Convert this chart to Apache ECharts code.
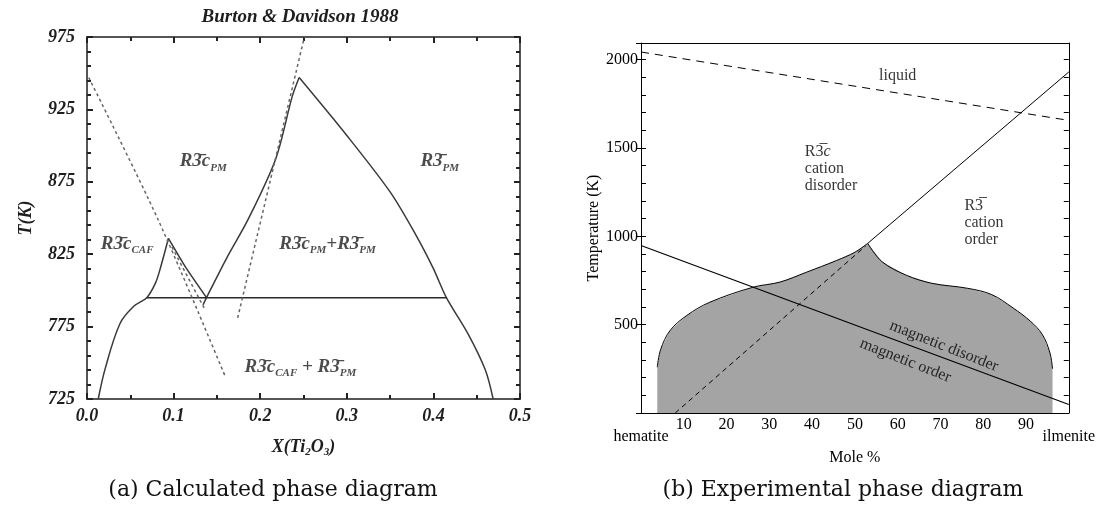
<!DOCTYPE html>
<html>
<head>
<meta charset="utf-8">
<title>Calculated and experimental phase diagrams</title>
<script src="https://cdn.jsdelivr.net/npm/echarts@6.0.0/dist/echarts.min.js"></script>
<style>
  html, body { margin: 0; padding: 0; background: #fff; }
  #chart { width: 1098px; height: 508px; }
</style>
</head>
<body>
<div id="chart"></div>
<script>
// (a) calculated diagram, points are [X(Ti2O3), T (K)]
const cafRise = [[0.013, 725], [0.021, 746], [0.038, 777], [0.054, 789], [0.069, 795], [0.079, 805], [0.085, 816], [0.094, 836]];
const cafFall = [[0.094, 836], [0.115, 815], [0.138, 795]];
const pmLeft = [[0.134, 790], [0.138, 795], [0.161, 822], [0.186, 849], [0.218, 891], [0.237, 934], [0.245, 947]];
const pmRight = [[0.245, 947], [0.300, 907], [0.350, 868], [0.380, 838], [0.400, 815], [0.415, 795], [0.440, 770], [0.460, 745], [0.469, 725]];
const eutectoid = [[0.069, 795], [0.415, 795]];
const dashLeft = [[0.002, 947], [0.082, 849], [0.160, 740]];
const dashCaf = [[0.098, 830], [0.136, 787]];
const dashPm = [[0.174, 781], [0.251, 975]];

// label text and anchor [x, T]
const calcLabels = [
  ['{m|R3\u0304c}{s|PM}', 0.107, 889],
  ['{m|R3\u0304}{s|PM}', 0.385, 889],
  ['{m|R3\u0304c}{s|CAF}', 0.016, 832],
  ['{m|R3\u0304c}{s|PM}{m|+R3\u0304}{s|PM}', 0.222, 832],
  ['{m|R3\u0304c}{s|CAF}{m| + R3\u0304}{s|PM}', 0.182, 747]
];

// (b) experimental diagram, points are [mole %, T (K)]
const liquidus = [[0, 2043], [100, 1656]];
const cationOrder = [[53, 960], [100, 1930]];
const magneticLine = [[0, 948], [100, 48]];
const orderDashed = [[8, 0], [52.5, 945]];
const domeLeft = [[3.8, 259], [4.6, 360], [6.8, 467], [10.7, 552], [16.1, 627], [26.2, 712], [32.5, 741], [38.7, 797], [45.7, 863], [50, 910], [53, 960]];
const domeRight = [[53, 960], [56.3, 857], [62, 780], [68, 734], [76.3, 706], [82, 670], [87, 594], [91, 520], [93.8, 445], [95.6, 340], [96.2, 250]];

const expLabels = [
  ['liquid', 60, 1911, 'center', 0],
  ['{r|R3\u0305}{i|c}\ncation\ndisorder', 38.3, 1380, 'left', 0],
  ['{r|R3\u0305}\ncation\norder', 75.6, 1075, 'left', 0],
  ['magnetic disorder', 70.8, 378, 'center', -21.5],
  ['magnetic order', 61.8, 297, 'center', -21.5]
];

const serif = 'Liberation Serif';
const boldItalic = { fontFamily: serif, fontStyle: 'italic', fontWeight: 'bold', color: '#1e1e1e' };
const frameA = { color: '#555', width: 2 };
const tickA = { color: '#222', width: 2 };

const chart = echarts.init(document.getElementById('chart'));

const option = {
  animation: false,
  backgroundColor: '#fff',
  textStyle: { fontFamily: serif },
  grid: [
    { left: 87, top: 37, width: 433, height: 362 },
    { left: 641, top: 43, width: 428, height: 370 }
  ],
  xAxis: [
    {
      gridIndex: 0, type: 'value', position: 'bottom', min: 0, max: 0.5, interval: 0.1,
      axisLine: { onZero: false, lineStyle: frameA },
      axisTick: { inside: true, length: 6, lineStyle: tickA },
      minorTick: { show: true, splitNumber: 2, length: 4, lineStyle: tickA },
      splitLine: { show: false },
      axisLabel: Object.assign({ formatter: v => v.toFixed(1), margin: 8, fontSize: 18 }, boldItalic),
      name: '{t|X(Ti}{s|2}{t|O}{s|3}{t|)}', nameLocation: 'middle', nameGap: 38,
      nameTextStyle: {
        rich: {
          t: Object.assign({ fontSize: 18, lineHeight: 21 }, boldItalic),
          s: Object.assign({ fontSize: 11, lineHeight: 11, verticalAlign: 'bottom' }, boldItalic)
        }
      }
    },
    {
      gridIndex: 0, type: 'value', position: 'top', min: 0, max: 0.5, interval: 0.1,
      axisLine: { onZero: false, lineStyle: frameA },
      axisTick: { inside: true, length: 6, lineStyle: tickA },
      minorTick: { show: true, splitNumber: 2, length: 4, lineStyle: tickA },
      splitLine: { show: false }, axisLabel: { show: false }
    },
    {
      gridIndex: 1, type: 'value', position: 'bottom', min: 0, max: 100, interval: 10,
      axisLine: { onZero: false, lineStyle: { color: '#000', width: 1 } },
      axisTick: { inside: true, length: 5, lineStyle: { color: '#000' } },
      splitLine: { show: false },
      axisLabel: {
        margin: 4, fontSize: 16, color: '#000', fontFamily: serif,
        showMinLabel: true, showMaxLabel: true,
        formatter: v => v === 0 ? '{e|hematite}' : v === 100 ? '{e|ilmenite}' : String(v),
        rich: { e: { fontSize: 16, color: '#000', fontFamily: serif, padding: [12, 0, 0, 0] } }
      },
      name: 'Mole %', nameLocation: 'middle', nameGap: 22,
      nameTextStyle: { fontSize: 16, color: '#000', fontFamily: serif }
    },
    {
      gridIndex: 1, type: 'value', position: 'top', min: 0, max: 100,
      axisLine: { onZero: false, lineStyle: { color: '#000', width: 1 } },
      axisTick: { show: false }, splitLine: { show: false }, axisLabel: { show: false }
    }
  ],
  yAxis: [
    {
      gridIndex: 0, type: 'value', position: 'left', min: 725, max: 975, interval: 50,
      axisLine: { onZero: false, lineStyle: frameA },
      axisTick: { inside: true, length: 6, lineStyle: tickA },
      minorTick: { show: true, splitNumber: 5, length: 4, lineStyle: tickA },
      splitLine: { show: false },
      axisLabel: Object.assign({ margin: 12, fontSize: 18 }, boldItalic),
      name: 'T(K)', nameLocation: 'middle', nameGap: 52,
      nameTextStyle: Object.assign({ fontSize: 18 }, boldItalic)
    },
    {
      gridIndex: 0, type: 'value', position: 'right', min: 725, max: 975, interval: 50,
      axisLine: { onZero: false, lineStyle: frameA },
      axisTick: { inside: true, length: 6, lineStyle: tickA },
      minorTick: { show: true, splitNumber: 5, length: 4, lineStyle: tickA },
      splitLine: { show: false }, axisLabel: { show: false }
    },
    {
      gridIndex: 1, type: 'value', position: 'left', min: 0, max: 2094, interval: 500,
      axisLine: { onZero: false, lineStyle: { color: '#000', width: 1 } },
      axisTick: { inside: false, length: 5, lineStyle: { color: '#000' } },
      splitLine: { show: false },
      axisLabel: {
        margin: 3, fontSize: 16, color: '#000', fontFamily: serif,
        formatter: v => (v > 0 && v % 500 === 0) ? String(v) : ''
      },
      name: 'Temperature (K)', nameLocation: 'middle', nameGap: 38,
      nameTextStyle: { fontSize: 16, color: '#000', fontFamily: serif }
    },
    {
      gridIndex: 1, type: 'value', position: 'left', min: 0, max: 2094, interval: 100,
      axisLine: { show: false },
      axisTick: { inside: true, length: 5, lineStyle: { color: '#000' } },
      splitLine: { show: false }, axisLabel: { show: false }
    },
    {
      gridIndex: 1, type: 'value', position: 'right', min: 0, max: 2094, interval: 100,
      axisLine: { onZero: false, lineStyle: { color: '#000', width: 1 } },
      axisTick: { inside: true, length: 5, lineStyle: { color: '#000' } },
      splitLine: { show: false }, axisLabel: { show: false }
    }
  ],
  series: [
    // (a)
    { type: 'line', xAxisIndex: 0, yAxisIndex: 0, data: cafRise, smooth: 0.35, showSymbol: false, lineStyle: { color: '#3a3a3a', width: 1.5 } },
    { type: 'line', xAxisIndex: 0, yAxisIndex: 0, data: cafFall, smooth: 0.2, showSymbol: false, lineStyle: { color: '#3a3a3a', width: 1.5 } },
    { type: 'line', xAxisIndex: 0, yAxisIndex: 0, data: pmLeft, smooth: 0.3, showSymbol: false, lineStyle: { color: '#3a3a3a', width: 1.5 } },
    { type: 'line', xAxisIndex: 0, yAxisIndex: 0, data: pmRight, smooth: 0.3, showSymbol: false, lineStyle: { color: '#3a3a3a', width: 1.5 } },
    { type: 'line', xAxisIndex: 0, yAxisIndex: 0, data: eutectoid, showSymbol: false, lineStyle: { color: '#2a2a2a', width: 1.5 } },
    { type: 'line', xAxisIndex: 0, yAxisIndex: 0, data: dashLeft, smooth: 0.3, showSymbol: false, lineStyle: { color: '#666', width: 1.5, type: [3, 3] } },
    { type: 'line', xAxisIndex: 0, yAxisIndex: 0, data: dashCaf, showSymbol: false, lineStyle: { color: '#666', width: 1.5, type: [3, 3] } },
    { type: 'line', xAxisIndex: 0, yAxisIndex: 0, data: dashPm, showSymbol: false, lineStyle: { color: '#666', width: 1.5, type: [3, 3] } },
    {
      type: 'scatter', xAxisIndex: 0, yAxisIndex: 0, symbolSize: 0, silent: true,
      data: calcLabels.map(l => ({ name: l[0], value: [l[1], l[2]] })),
      label: {
        show: true, position: [0, 0], align: 'left', verticalAlign: 'middle',
        formatter: p => p.name,
        rich: {
          m: Object.assign({ fontSize: 19, lineHeight: 24 }, boldItalic),
          s: Object.assign({ fontSize: 11, lineHeight: 11, verticalAlign: 'bottom' }, boldItalic)
        }
      }
    },
    // (b) gray magnetic dome: one filled polygon, outlined by two smooth halves
    {
      type: 'line', xAxisIndex: 2, yAxisIndex: 2, data: domeLeft.concat(domeRight.slice(1)),
      showSymbol: false, z: 1, lineStyle: { width: 0, opacity: 0 },
      areaStyle: { color: '#a4a4a4', opacity: 1 }
    },
    { type: 'line', xAxisIndex: 2, yAxisIndex: 2, data: domeLeft, smooth: 0.35, showSymbol: false, z: 2, lineStyle: { color: '#000', width: 1 } },
    { type: 'line', xAxisIndex: 2, yAxisIndex: 2, data: domeRight, smooth: 0.35, showSymbol: false, z: 2, lineStyle: { color: '#000', width: 1 } },
    { type: 'line', xAxisIndex: 2, yAxisIndex: 2, data: liquidus, showSymbol: false, lineStyle: { color: '#000', width: 1, type: [8, 6] } },
    { type: 'line', xAxisIndex: 2, yAxisIndex: 2, data: cationOrder, showSymbol: false, lineStyle: { color: '#000', width: 1 } },
    { type: 'line', xAxisIndex: 2, yAxisIndex: 2, data: magneticLine, showSymbol: false, lineStyle: { color: '#000', width: 1.2 } },
    { type: 'line', xAxisIndex: 2, yAxisIndex: 2, data: orderDashed, showSymbol: false, lineStyle: { color: '#000', width: 1, type: [5, 4] } },
    {
      type: 'scatter', xAxisIndex: 2, yAxisIndex: 2, symbolSize: 0, silent: true,
      data: expLabels.map(l => ({
        name: l[0], value: [l[1], l[2]],
        label: { align: l[3], rotate: l[4] }
      })),
      label: {
        show: true, position: [0, 0], verticalAlign: 'middle',
        fontSize: 16, lineHeight: 17, color: '#000', fontFamily: serif,
        formatter: p => p.name,
        rich: {
          r: { fontSize: 16, lineHeight: 17, color: '#000', fontFamily: serif },
          i: { fontSize: 16, lineHeight: 17, color: '#000', fontFamily: serif, fontStyle: 'italic' }
        }
      }
    }
  ],
  graphic: [
    {
      type: 'text', x: 300, y: 17,
      style: { text: 'Burton & Davidson 1988', font: 'italic bold 19px "Liberation Serif"', fill: '#1e1e1e', align: 'center', verticalAlign: 'middle', textAlign: 'center', textVerticalAlign: 'middle' }
    },
    {
      type: 'text', x: 273, y: 490,
      style: { text: '(a) Calculated phase diagram', font: '22px "DejaVu Serif"', fill: '#111', align: 'center', verticalAlign: 'middle', textAlign: 'center', textVerticalAlign: 'middle' }
    },
    {
      type: 'text', x: 843, y: 490,
      style: { text: '(b) Experimental phase diagram', font: '22px "DejaVu Serif"', fill: '#111', align: 'center', verticalAlign: 'middle', textAlign: 'center', textVerticalAlign: 'middle' }
    }
  ]
};

chart.setOption(option);
window.addEventListener('resize', () => chart.resize());
</script>
</body>
</html>
